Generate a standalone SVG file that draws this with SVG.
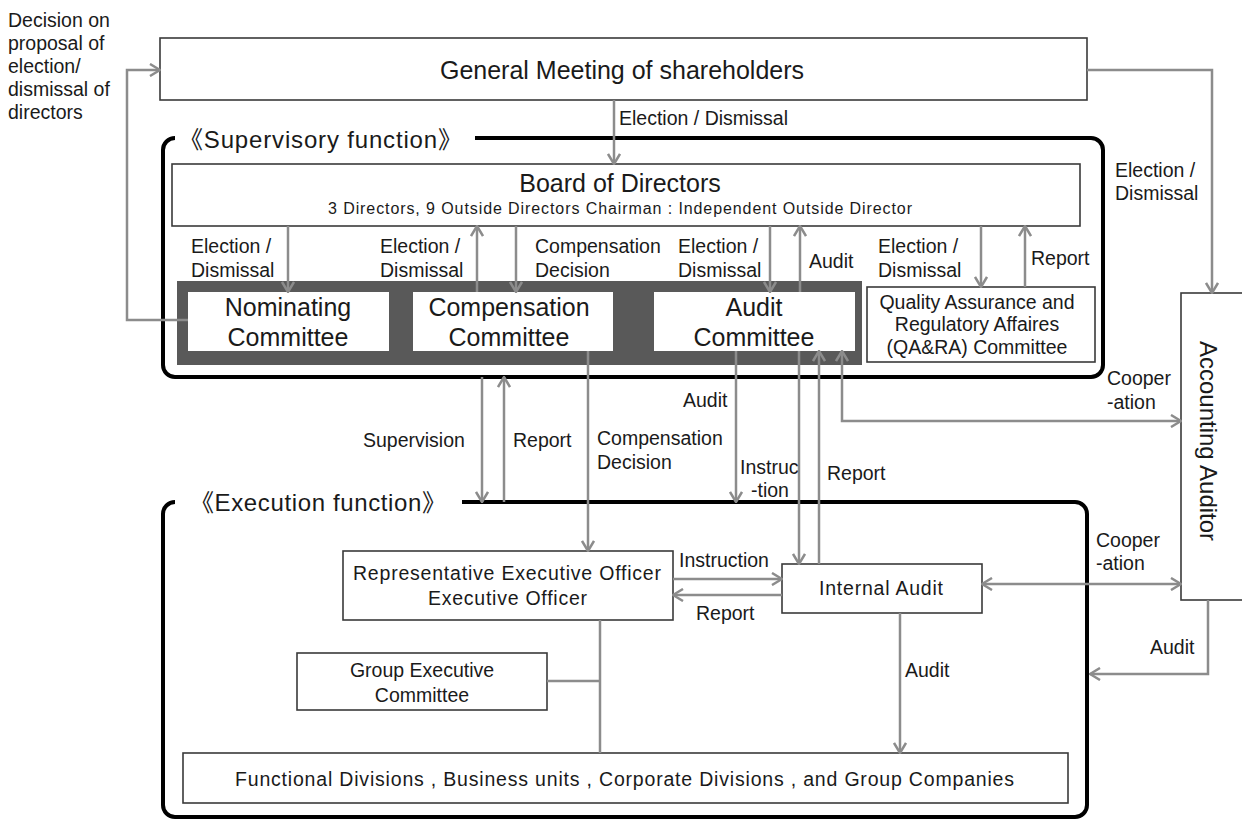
<svg xmlns="http://www.w3.org/2000/svg" width="1242" height="822" viewBox="0 0 1242 822">
<style>
text{font-family:"Liberation Sans",Arial,"Noto Sans CJK JP",sans-serif;fill:#1a1a1a}
.box{fill:#fff;stroke:#3a3a3a;stroke-width:1.6}
.frame{fill:none;stroke:#000;stroke-width:4}
.band{fill:#595959}
.t25{font-size:25px;text-anchor:middle}
.t24{font-size:24px}
.lbl{font-size:19.5px}
.mid{text-anchor:middle}
.cn{fill:none;stroke:#8c8c8c;stroke-width:2.5}
.ae{marker-end:url(#ah)}
.as{marker-start:url(#ah)}
</style>
<defs>
<marker id="ah" viewBox="0 0 12 14" refX="11" refY="7" markerWidth="12" markerHeight="14" markerUnits="userSpaceOnUse" orient="auto-start-reverse">
<path d="M1,1 L11,7 L1,13" fill="none" stroke="#8c8c8c" stroke-width="2.5"/>
</marker>
</defs>
<rect width="1242" height="822" fill="#fff"/>

<g id="note-decision">
<text class="lbl" x="8" y="27">Decision on</text>
<text class="lbl" x="8" y="50">proposal of</text>
<text class="lbl" x="8" y="73">election/</text>
<text class="lbl" x="8" y="96">dismissal of</text>
<text class="lbl" x="8" y="119">directors</text>
</g>

<g id="general-meeting">
<rect class="box" x="160" y="38" width="927" height="62"/>
<text class="t25" x="622" y="79">General Meeting of shareholders</text>
</g>

<g id="supervisory-frame">
<path class="frame" d="M475,138 H1091 A12,12 0 0 1 1103,150 V365 A12,12 0 0 1 1091,377 H175 A12,12 0 0 1 163,365 V150 A12,12 0 0 1 175,138"/>
<text class="t24" x="179" y="148" textLength="283" lengthAdjust="spacing">《Supervisory function》</text>
</g>

<g id="board">
<rect class="box" x="172" y="164" width="908" height="62"/>
<text class="t25" x="620" y="192">Board of Directors</text>
<text x="328" y="214" font-size="16" textLength="584" lengthAdjust="spacing">3 Directors, 9 Outside Directors   Chairman : Independent  Outside Director</text>
</g>

<g id="committee-band">
<rect class="band" x="177" y="281" width="685" height="84"/>
</g>

<g id="nominating">
<rect x="188" y="292" width="201" height="59" fill="#fff"/>
<text class="t25" x="288" y="316">Nominating</text>
<text class="t25" x="288" y="346">Committee</text>
</g>

<g id="compensation">
<rect x="413" y="292" width="200" height="59" fill="#fff"/>
<text class="t25" x="509" y="316">Compensation</text>
<text class="t25" x="509" y="346">Committee</text>
</g>

<g id="audit-committee">
<rect x="654" y="292" width="201" height="59" fill="#fff"/>
<text class="t25" x="754" y="316">Audit</text>
<text class="t25" x="754" y="346">Committee</text>
</g>

<g id="qara">
<rect class="box" x="867" y="287" width="228" height="75"/>
<text class="lbl mid" x="977" y="309">Quality Assurance and</text>
<text class="lbl mid" x="977" y="331">Regulatory Affaires</text>
<text class="lbl mid" x="977" y="354">(QA&amp;RA) Committee</text>
</g>

<g id="accounting-auditor">
<rect class="box" x="1181" y="293" width="62" height="307"/>
<text font-size="24" text-anchor="middle" transform="translate(1200,441) rotate(90)">Accounting Auditor</text>
</g>

<g id="execution-frame">
<path class="frame" d="M462,502 H1075 A12,12 0 0 1 1087,514 V805 A12,12 0 0 1 1075,817 H175 A12,12 0 0 1 163,805 V514 A12,12 0 0 1 175,502"/>
<text class="t24" x="190" y="511" textLength="256" lengthAdjust="spacing">《Execution function》</text>
</g>

<g id="rep-officer">
<rect class="box" x="343" y="551" width="330" height="69"/>
<text class="lbl" x="353" y="580" textLength="308" lengthAdjust="spacing">Representative  Executive  Officer</text>
<text class="lbl" x="428" y="605" textLength="159" lengthAdjust="spacing">Executive  Officer</text>
</g>

<g id="internal-audit">
<rect class="box" x="782" y="564" width="200" height="49"/>
<text class="lbl" x="819" y="595" textLength="124" lengthAdjust="spacing">Internal  Audit</text>
</g>

<g id="group-exec">
<rect class="box" x="297" y="653" width="250" height="57"/>
<text class="lbl mid" x="422" y="677">Group Executive</text>
<text class="lbl mid" x="422" y="702">Committee</text>
</g>

<g id="functional">
<rect class="box" x="183" y="753" width="885" height="50"/>
<text class="lbl" x="235" y="786" textLength="779" lengthAdjust="spacing">Functional Divisions , Business units , Corporate Divisions , and Group Companies</text>
</g>

<g id="connectors">
<path class="cn ae" d="M188,320 H127 V70 H160"/>
<path class="cn ae" d="M1087,70 H1212 V293"/>
<path class="cn ae" d="M614,100 V164"/>
<path class="cn ae" d="M288,226 V292"/>
<path class="cn ae" d="M477,292 V226"/>
<path class="cn ae" d="M516,226 V292"/>
<path class="cn ae" d="M770,226 V292"/>
<path class="cn ae" d="M800,292 V226"/>
<path class="cn ae" d="M981,226 V287"/>
<path class="cn ae" d="M1025,287 V226"/>
<path class="cn ae" d="M482,377 V502"/>
<path class="cn ae" d="M504,502 V377"/>
<path class="cn ae" d="M588,351 V551"/>
<path class="cn ae" d="M736,351 V502"/>
<path class="cn ae" d="M799,351 V564"/>
<path class="cn ae" d="M819,564 V351"/>
<path class="cn as ae" d="M842,351 V421 H1181"/>
<path class="cn ae" d="M673,579 H782"/>
<path class="cn ae" d="M782,595 H673"/>
<path class="cn as ae" d="M982,584 H1181"/>
<path class="cn ae" d="M1208,600 V674 H1090"/>
<path class="cn ae" d="M900,613 V753"/>
<path class="cn" d="M600,620 V753"/>
<path class="cn" d="M547,681 H600"/>
</g>

<g id="labels">
<text class="lbl" x="619" y="125">Election / Dismissal</text>
<text class="lbl" x="1115" y="177">Election /</text>
<text class="lbl" x="1115" y="200">Dismissal</text>
<text class="lbl" x="191" y="253">Election /</text>
<text class="lbl" x="191" y="277">Dismissal</text>
<text class="lbl" x="380" y="253">Election /</text>
<text class="lbl" x="380" y="277">Dismissal</text>
<text class="lbl" x="535" y="253">Compensation</text>
<text class="lbl" x="535" y="277">Decision</text>
<text class="lbl" x="678" y="253">Election /</text>
<text class="lbl" x="678" y="277">Dismissal</text>
<text class="lbl" x="809" y="268">Audit</text>
<text class="lbl" x="878" y="253">Election /</text>
<text class="lbl" x="878" y="277">Dismissal</text>
<text class="lbl" x="1031" y="265">Report</text>
<text class="lbl" x="1107" y="385">Cooper</text>
<text class="lbl" x="1107" y="409">-ation</text>
<text class="lbl" x="363" y="447">Supervision</text>
<text class="lbl" x="513" y="447">Report</text>
<text class="lbl" x="597" y="445">Compensation</text>
<text class="lbl" x="597" y="469">Decision</text>
<text class="lbl" x="683" y="407">Audit</text>
<text class="lbl" x="740" y="474">Instruc</text>
<text class="lbl" x="751" y="497">-tion</text>
<text class="lbl" x="827" y="480">Report</text>
<text class="lbl" x="679" y="567">Instruction</text>
<text class="lbl" x="696" y="620">Report</text>
<text class="lbl" x="1096" y="547">Cooper</text>
<text class="lbl" x="1096" y="570">-ation</text>
<text class="lbl" x="905" y="677">Audit</text>
<text class="lbl" x="1150" y="654">Audit</text>
</g>
</svg>
